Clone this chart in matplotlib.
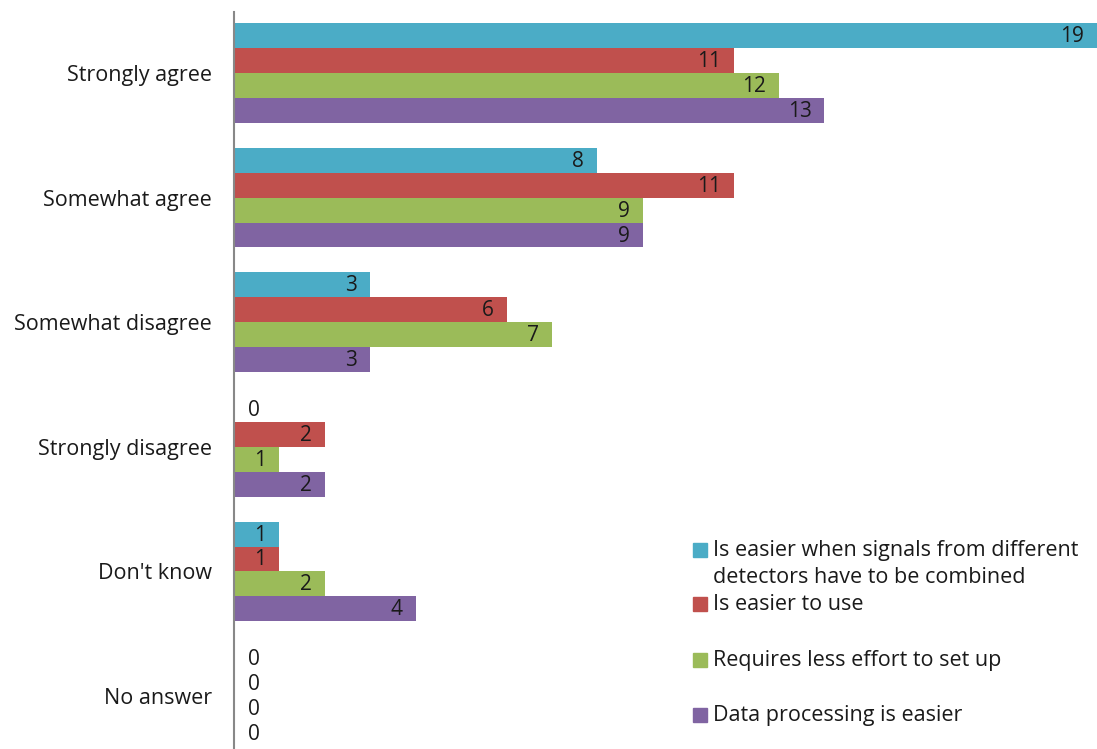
import numpy as np
import matplotlib.pyplot as plt
from matplotlib.patches import Rectangle

categories = ["Strongly agree", "Somewhat agree", "Somewhat disagree",
              "Strongly disagree", "Don't know", "No answer"]
series_names = ["Is easier when signals from different\ndetectors have to be combined",
                "Is easier to use",
                "Requires less effort to set up",
                "Data processing is easier"]
combined = [19, 8, 3, 0, 1, 0]
easier_use = [11, 11, 6, 2, 1, 0]
less_effort = [12, 9, 7, 1, 2, 0]
processing = [13, 9, 3, 2, 4, 0]
colors = ["#4BACC6", "#C0504D", "#9BBB59", "#8064A2"]

plt.rcParams['font.family'] = ['Open Sans', 'DejaVu Sans']

fig = plt.figure(figsize=(10.97, 7.49), dpi=100)
ax = fig.add_axes([234/1097, 0, 1 - 234/1097, 1 - 12/749])

y = np.arange(len(categories))
h = 0.2
allvals = [combined, easier_use, less_effort, processing]
for i, vals in enumerate(allvals):
    pos = y - 0.3 + i * h
    ax.barh(pos, vals, height=h, color=colors[i], edgecolor="none")
    for p, v in zip(pos, vals):
        if v > 0:
            ax.annotate(str(v), (v, p), xytext=(-13, -1), textcoords="offset pixels",
                        ha="right", va="center", fontsize=15, color="#1a1a1a")
        else:
            ax.annotate(str(v), (v, p), xytext=(14, -1), textcoords="offset pixels",
                        ha="left", va="center", fontsize=15, color="#1a1a1a")

ax.set_xlim(0, 19)
ax.set_ylim(5.425, -0.49)
ax.set_yticks(y)
ax.set_yticklabels(categories, fontsize=15.5, color="#1a1a1a")
ax.tick_params(axis="y", length=0, pad=16)
ax.set_xticks([])
for s in ["top", "right", "bottom"]:
    ax.spines[s].set_visible(False)
ax.spines["left"].set_color("#888888")
ax.spines["left"].set_linewidth(1.5)

# legend
W, H = 1097, 749
leg_y = [550, 604, 660, 715]
for name, c, ly in zip(series_names, colors, leg_y):
    fig.patches.append(Rectangle((693/W, 1 - (ly + 7)/H), 14/W, 14/H,
                                 transform=fig.transFigure, color=c))
    fig.text(713/W, 1 - (ly - 10)/H, name, ha="left", va="top", fontsize=15.5,
             color="#1a1a1a", linespacing=1.35)

fig.savefig("out.png", dpi=100)
